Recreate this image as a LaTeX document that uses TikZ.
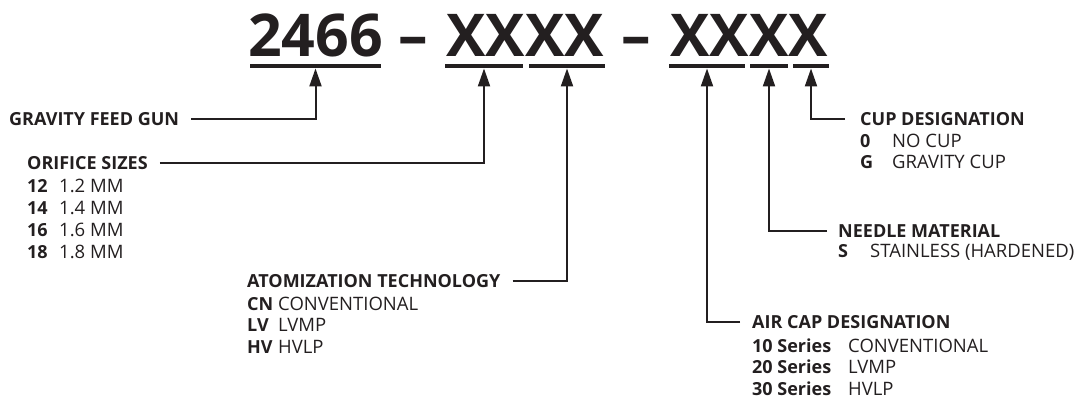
\documentclass[tikz,border=0pt]{standalone}
\usepackage{fontspec}
\setmainfont{Open Sans}
\usetikzlibrary{arrows.meta}

\definecolor{ink}{RGB}{35,31,32}

\tikzset{
  partno/.style={anchor=base,inner sep=0pt,font=\fontsize{59}{59}\selectfont\bfseries},
  uline/.style={fill=ink,inner sep=0pt,minimum height=4.5pt,minimum width=#1},
  hdr/.style={anchor=base west,inner sep=0pt,font=\fontsize{18}{20}\selectfont\bfseries},
  key/.style={anchor=base west,inner sep=0pt,font=\fontsize{18}{20}\selectfont\bfseries},
  val/.style={anchor=base west,inner sep=0pt,font=\fontsize{18.5}{20}\selectfont},
  conn/.style={line width=2pt,-{Triangle[length=18pt,width=12pt]}},
}

\begin{document}
\begin{tikzpicture}[x=1pt,y=-1pt,ink]
  \useasboundingbox (0,0) rectangle (1079,399);

  % part number and its fields
  \node[partno] (num) at (315.5,56) {2466};
  \node[partno] (dash1) at (413,56) {--};
  \node[partno] (grp1) at (525,56) {XXXX};
  \node[partno] (dash2) at (636,56) {--};
  \node[partno] (grp2) at (749,56) {XXXX};

  \node[uline=131] (u1) at (315.5,66) {};
  \node[uline=78] (u2) at (484,66) {};
  \node[uline=76] (u3) at (567,66) {};
  \node[uline=76] (u4) at (707,66) {};
  \node[uline=38] (u5) at (769,66) {};
  \node[uline=36] (u6) at (811,66) {};

  % headings
  \node[hdr] (gun) at (9,125) {GRAVITY FEED GUN};
  \node[hdr] (orifice) at (27,169) {ORIFICE SIZES};
  \node[hdr] (atom) at (247,287) {ATOMIZATION TECHNOLOGY};
  \node[hdr] (cup) at (860,125) {CUP DESIGNATION};
  \node[hdr] (needle) at (838,237) {NEEDLE MATERIAL};
  \node[hdr] (aircap) at (752,328) {AIR CAP DESIGNATION};

  % option lists
  \foreach \c/\v [count=\i] in {12/1.2 MM,14/1.4 MM,16/1.6 MM,18/1.8 MM}{
    \node[key] (ori-k\i) at (27,170+22*\i) {\c};
    \node[val] (ori-v\i) at (59,170+22*\i) {\v};
  }
  \foreach \c/\v [count=\i] in {CN/CONVENTIONAL,LV/LVMP,HV/HVLP}{
    \node[key] (atom-k\i) at (247,288.5+21.5*\i) {\c};
    \node[val] (atom-v\i) at (278,288.5+21.5*\i) {\v};
  }
  \foreach \c/\v [count=\i] in {0/NO CUP,G/GRAVITY CUP}{
    \node[key] (cup-k\i) at (860,126+21*\i) {\c};
    \node[val] (cup-v\i) at (892,126+21*\i) {\v};
  }
  \node[key] (needle-k1) at (838,257) {S};
  \node[val] (needle-v1) at (870,257) {STAINLESS (HARDENED)};
  \foreach \c/\v [count=\i] in {10 Series/CONVENTIONAL,20 Series/LVMP,30 Series/HVLP}{
    \node[key] (air-k\i) at (752,330.5+21.5*\i) {\c};
    \node[val] (air-v\i) at (848,330.5+21.5*\i) {\v};
  }

  % leaders
  \draw[conn,shorten <=12pt] (gun.east) -| (u1.south);
  \draw[conn,shorten <=12pt] (orifice.east) -| (u2.south);
  \draw[conn,shorten <=12pt] (atom.east) -| (u3.south);
  \draw[conn,shorten <=12pt] (aircap.west) -| (u4.south);
  \draw[conn,shorten <=11pt] (needle.west) -| (u5.south);
  \draw[conn,shorten <=15pt] (cup.west) -| (u6.south);
\end{tikzpicture}
\end{document}
